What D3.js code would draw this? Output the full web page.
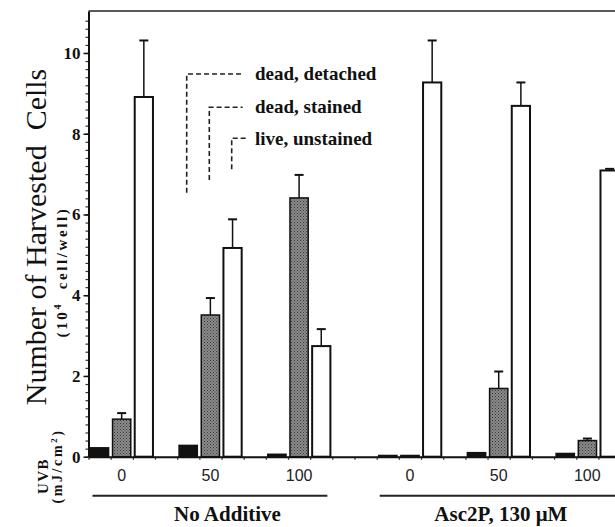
<!DOCTYPE html>
<html><head><meta charset="utf-8">
<script src="https://cdn.jsdelivr.net/npm/d3@7"></script>
<style>html,body{margin:0;padding:0;background:#fff;}svg{display:block;}</style>
</head><body>
<svg id="chart" width="615" height="527"></svg>
<script>
// ---- data ----
const doses = ["0", "50", "100", "0", "50", "100"];
const treatments = ["No Additive", "Asc2P, 130 \u03bcM"];
const groupStartSlot = [0, 4, 8, 13, 17, 21];
const seriesNames = ["dead, detached", "dead, stained", "live, unstained"];
const detached = [0.22, 0.28, 0.06, 0.03, 0.10, 0.08];
const stained = [0.93, 3.51, 6.41, 0.03, 1.69, 0.40];
const stainedErr = [1.08, 3.93, 6.98, null, 2.11, 0.45];
const live = [8.91, 5.17, 2.74, 9.27, 8.69, 7.09];
const liveErr = [10.31, 5.88, 3.16, 10.31, 9.27, 7.13];
const yMajorTicks = [0, 2, 4, 6, 8, 10];

const svg = d3.select("#chart");
const W = 615, H = 527;
const x0 = 88.5, slotW = 22.17, nSlots = 24;
const y = d3.scaleLinear().domain([0, 11.04]).range([456.7, 11]);
const slot = d3.scaleLinear().domain([0, nSlots]).range([x0, x0 + nSlots * slotW]);
const band = d3.scaleBand().domain(d3.range(nSlots)).range([x0, x0 + nSlots * slotW]).paddingInner(0.11).paddingOuter(0.05);

// patterns
const defs = svg.append("defs");
const pat = defs.append("pattern").attr("id", "stip").attr("width", 3).attr("height", 3).attr("patternUnits", "userSpaceOnUse");
pat.append("rect").attr("width", 3).attr("height", 3).attr("fill", "#8a8a8a");
pat.append("rect").attr("x", 0).attr("y", 0).attr("width", 1).attr("height", 1).attr("fill", "#3a3a3a");
pat.append("rect").attr("x", 1.5).attr("y", 1.5).attr("width", 1).attr("height", 1).attr("fill", "#505050");

// top frame
svg.append("line").attr("x1", x0).attr("x2", W).attr("y1", y(11.04)).attr("y2", y(11.04))
  .attr("stroke", "#222").attr("stroke-width", 1.5);

// y axis minor ticks
const minor = d3.range(0, 55).map(i => +(i * 0.2).toFixed(1)).filter(v => v <= 11.0);
svg.append("g").attr("transform", `translate(${x0},0)`)
  .call(d3.axisLeft(y).tickValues(minor).tickSize(3).tickFormat(""))
  .call(g => g.select(".domain").remove())
  .call(g => g.selectAll("line").attr("stroke", "#333").attr("stroke-width", 1.2));
// y axis major
const yAx = svg.append("g").attr("transform", `translate(${x0},0)`)
  .call(d3.axisLeft(y).tickValues(yMajorTicks).tickSize(5).tickSizeOuter(0).tickPadding(3).tickFormat(d3.format("d")));
yAx.select(".domain").attr("stroke", "#111").attr("stroke-width", 2);
yAx.selectAll("line").attr("stroke", "#111").attr("stroke-width", 1.5);
yAx.selectAll("text").attr("font-family", "Liberation Serif, serif").attr("font-weight", "bold")
  .attr("font-size", 17).attr("fill", "#111");

// x baseline with slot ticks
const xAx = svg.append("g").attr("transform", `translate(0,${y(0)})`)
  .call(d3.axisBottom(slot).tickValues(d3.range(0, nSlots + 1)).tickSize(3).tickSizeOuter(0).tickFormat(""));
xAx.select(".domain").attr("stroke", "#111").attr("stroke-width", 2);
xAx.selectAll("line").attr("stroke", "#222").attr("stroke-width", 1.2);

// bars
const bars = [];
doses.forEach((d, i) => {
  bars.push({slot: groupStartSlot[i], v: detached[i], err: null, type: 0});
  bars.push({slot: groupStartSlot[i] + 1, v: stained[i], err: stainedErr[i], type: 1});
  bars.push({slot: groupStartSlot[i] + 2, v: live[i], err: liveErr[i], type: 2});
});
const fills = ["#111", "url(#stip)", "#fff"];
svg.append("g").selectAll("rect").data(bars).join("rect")
  .attr("x", d => band(d.slot) + 0.75)
  .attr("width", band.bandwidth() - 1.5)
  .attr("y", d => y(d.v))
  .attr("height", d => y(0) - y(d.v))
  .attr("fill", d => fills[d.type])
  .attr("stroke", "#111")
  .attr("stroke-width", d => d.type === 2 ? 2 : 1.5);

// error bars
const eb = bars.filter(d => d.err != null);
const eg = svg.append("g").attr("stroke", "#111");
eg.selectAll("line.v").data(eb).join("line").attr("class", "v")
  .attr("x1", d => band(d.slot) + band.bandwidth() / 2).attr("x2", d => band(d.slot) + band.bandwidth() / 2)
  .attr("y1", d => y(d.v)).attr("y2", d => y(d.err)).attr("stroke-width", 1.5);
eg.selectAll("line.c").data(eb).join("line").attr("class", "c")
  .attr("x1", d => band(d.slot) + band.bandwidth() / 2 - 4.5).attr("x2", d => band(d.slot) + band.bandwidth() / 2 + 4.5)
  .attr("y1", d => y(d.err)).attr("y2", d => y(d.err)).attr("stroke-width", 2);

// dose labels
svg.append("g").selectAll("text").data(doses).join("text")
  .attr("x", (d, i) => slot(groupStartSlot[i] + 1.5))
  .attr("y", 481)
  .attr("text-anchor", "middle")
  .attr("font-family", "Liberation Sans, Arial, sans-serif")
  .attr("font-size", 16).attr("fill", "#222")
  .text(d => d);

// treatment underlines and labels
const underl = [[slot(0) + 4, slot(11) - 5], [slot(13) + 3, W]];
svg.append("g").selectAll("line").data(underl).join("line")
  .attr("x1", d => d[0]).attr("x2", d => d[1]).attr("y1", 495.7).attr("y2", 495.7)
  .attr("stroke", "#222").attr("stroke-width", 2);
const treatPos = [6.27, 18.6];
svg.append("g").selectAll("text").data(treatments).join("text")
  .attr("x", (d, i) => slot(treatPos[i]))
  .attr("y", 521)
  .attr("text-anchor", "middle")
  .attr("font-family", "Liberation Serif, serif")
  .attr("font-weight", "bold")
  .attr("font-size", 21).attr("fill", "#111")
  .attr("xml:space", "preserve")
  .text(d => d);

// y title
svg.append("text")
  .attr("transform", "translate(46,237) rotate(-90)")
  .attr("text-anchor", "middle")
  .attr("font-family", "Liberation Serif, serif")
  .attr("font-size", 30).attr("fill", "#111")
  .attr("xml:space", "preserve")
  .text("Number of Harvested  Cells");
const sub = svg.append("text")
  .attr("transform", "translate(67,272) rotate(-90)")
  .attr("text-anchor", "middle")
  .attr("font-family", "Liberation Serif, serif")
  .attr("font-weight", "bold")
  .attr("font-size", 15).attr("fill", "#111")
  .attr("letter-spacing", 2.6)
  .attr("xml:space", "preserve");
sub.append("tspan").text("(10");
sub.append("tspan").attr("dy", -6).attr("font-size", 10).text("4");
sub.append("tspan").attr("dy", 6).text("  cell/well)");

// UVB label
svg.append("text")
  .attr("transform", "translate(48,476) rotate(-90)")
  .attr("text-anchor", "middle")
  .attr("font-family", "Liberation Serif, serif").attr("font-weight", "bold")
  .attr("font-size", 15).attr("fill", "#111")
  .attr("letter-spacing", 1.5)
  .text("UVB");
const mj = svg.append("text")
  .attr("transform", "translate(62,466) rotate(-90)")
  .attr("text-anchor", "middle")
  .attr("font-family", "Liberation Serif, serif").attr("font-weight", "bold")
  .attr("font-size", 14).attr("fill", "#111")
  .attr("letter-spacing", 2.6);
mj.append("tspan").text("(mJ/cm");
mj.append("tspan").attr("dy", -5).attr("font-size", 9).text("2");
mj.append("tspan").attr("dy", 5).text(")");

// legend with dashed leader lines
const legendY = [80, 112.7, 145];
const leaders = [
  {xv: 186.7, yh: 74, yb: 192.7, x2: 242.7},
  {xv: 209.3, yh: 107.3, yb: 180, x2: 242.7},
  {xv: 231.7, yh: 138.3, yb: 169.3, x2: 247}
];
const lg = svg.append("g");
lg.selectAll("path").data(leaders).join("path")
  .attr("d", d => `M${d.xv},${d.yb}V${d.yh}H${d.x2}`)
  .attr("fill", "none").attr("stroke", "#222").attr("stroke-width", 1.6)
  .attr("stroke-dasharray", "5,3");
lg.selectAll("text").data(seriesNames).join("text")
  .attr("x", 255).attr("y", (d, i) => legendY[i])
  .attr("font-family", "Liberation Serif, serif").attr("font-weight", "bold")
  .attr("font-size", 19).attr("fill", "#111")
  .text(d => d);
</script>
</body></html>
